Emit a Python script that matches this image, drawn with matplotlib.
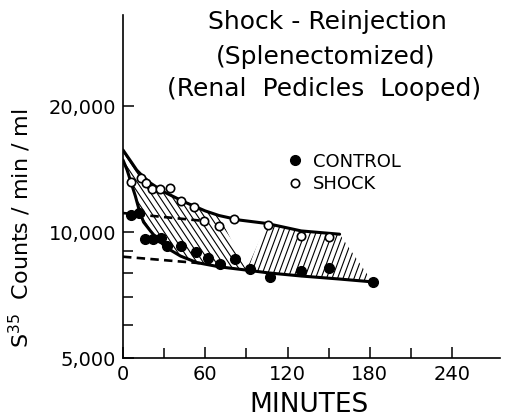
import numpy as np
import matplotlib
matplotlib.use("Agg")
import matplotlib.pyplot as plt
from matplotlib.patches import Polygon
from matplotlib.collections import LineCollection
from matplotlib.ticker import NullFormatter, FixedFormatter

# measured points (minutes, counts/min/ml)
control_t = [6, 12, 16, 22, 28, 32, 42, 53, 62, 71, 82, 93, 107, 130, 150, 182]
control_v = [10980, 11080, 9620, 9620, 9690, 9260, 9260, 8970, 8680, 8370, 8600, 8160, 7790, 8070, 8190, 7610]

shock_t = [6, 13, 17, 21, 27, 34, 42, 52, 59, 70, 81, 106, 130, 150]
shock_v = [13190, 13480, 13120, 12650, 12650, 12760, 11880, 11490, 10640, 10330, 10720, 10390, 9800, 9710]

# fitted curves as drawn on the original
shock_fit_t = [0, 3, 6, 10, 15, 20, 30, 45, 60, 70, 85, 105, 130, 158]
shock_fit_v = [15700, 15190, 14700, 14060, 13530, 13090, 12460, 11790, 11230, 10950, 10680, 10480, 10060, 9880]

control_fit_t = [0, 3, 6, 9, 12, 15, 20, 25, 32, 42, 54, 70, 90, 107, 130, 158, 182]
control_fit_v = [14860, 14060, 13090, 12190, 11220, 10560, 10060, 9620, 9160, 8760, 8450, 8260, 8110, 7980, 7850, 7720, 7600]

# extrapolated slow components (dashed)
shock_slow_t = [0, 60]
shock_slow_v = [11100, 10620]
control_slow_t = [0, 57]
control_slow_v = [8730, 8420]

xticks = [0, 60, 120, 180, 240]
xminor = [30, 90, 150, 210]
yticks = [5000, 10000, 20000]
ylabels = ["5,000", "10,000", "20,000"]
yminor = [6000, 7000, 8000, 9000]

fig = plt.figure(figsize=(5.16, 4.17), dpi=100)
ax = fig.add_axes([123 / 516, 1 - 358 / 417, 377 / 516, 343 / 417])
ax.set_yscale("log")
ax.set_xlim(0, 275)
ax.set_ylim(5000, 33000)

W = 377.0
H = 343.0


def add_hatch(verts, slope, spacing, zorder=1):
    # straight hatch lines in pixel space, clipped to the region
    poly = Polygon(verts, closed=True, fill=False, edgecolor="none")
    ax.add_patch(poly)
    step = abs(slope) * spacing
    span = abs(slope) * W + H
    segs = []
    for c in np.arange(-span, span, step):
        segs.append([(0, c / H), (1, (slope * W + c) / H)])
    lc = LineCollection(segs, transform=ax.transAxes, colors="black",
                        linewidths=0.8, zorder=zorder)
    lc.set_clip_path(poly)
    ax.add_collection(lc, autolim=False)


sf = dict(zip(shock_fit_t, shock_fit_v))
cf = dict(zip(control_fit_t, control_fit_v))

# region 1: 0-70 min on shock curve, 0-90 on control curve
r1 = [(t, sf[t]) for t in shock_fit_t if t <= 70]
r1 += [(t, cf[t]) for t in control_fit_t if t <= 90][::-1]
add_hatch(r1, -1.5, 6.3)

# region 2: 90-182 min
r2 = [(90, cf[90])]
r2 += [(t, sf[t]) for t in shock_fit_t if t >= 105]
r2 += [(t, cf[t]) for t in control_fit_t if t >= 90][::-1]
add_hatch(r2, 2.7, 5.5)

ax.plot(shock_fit_t, shock_fit_v, color="black", lw=2.2, zorder=2,
        solid_capstyle="round")
ax.plot(control_fit_t, control_fit_v, color="black", lw=2.2, zorder=2,
        solid_capstyle="round")
ax.plot(shock_slow_t, shock_slow_v, color="black", lw=1.9, zorder=2,
        dashes=(3.2, 2.0))
ax.plot(control_slow_t, control_slow_v, color="black", lw=1.9, zorder=2,
        dashes=(3.2, 2.0))

h1, = ax.plot(control_t, control_v, "o", ms=7, mfc="black", mec="black",
              zorder=4, label="CONTROL")
h2, = ax.plot(shock_t, shock_v, "o", ms=6, mfc="white", mec="black",
              mew=1.2, zorder=4, label="SHOCK")

ax.legend(handles=[h1, h2], loc="upper left", bbox_to_anchor=(0.442, 0.599),
          frameon=False, fontsize=13, handlelength=0.6, handletextpad=0.7,
          labelspacing=0.25, borderpad=0, borderaxespad=0)

for side in ["top", "right"]:
    ax.spines[side].set_visible(False)
for side in ["left", "bottom"]:
    ax.spines[side].set_linewidth(1.2)

ax.set_xticks(xticks)
ax.set_xticks(xminor, minor=True)
ax.set_yticks(yticks)
ax.yaxis.set_major_formatter(FixedFormatter(ylabels))
ax.set_yticks(yminor, minor=True)
ax.yaxis.set_minor_formatter(NullFormatter())
ax.tick_params(which="both", direction="in", width=1.1, labelsize=14)
ax.tick_params(which="major", length=8, pad=5)
ax.tick_params(which="minor", length=7.5)

fig.text(327 / 516, 1 - 22 / 417, "Shock - Reinjection", ha="center",
         va="center", fontsize=18)
fig.text(326 / 516, 1 - 57 / 417, "(Splenectomized)", ha="center",
         va="center", fontsize=18)
fig.text(324 / 516, 1 - 89 / 417, "(Renal  Pedicles  Looped)", ha="center",
         va="center", fontsize=18)
fig.text(20 / 516, 1 - 228 / 417, r"S$^{35}$  Counts / min / ml",
         rotation=90, ha="center", va="center", fontsize=16)
fig.text(309 / 516, 1 - 405 / 417, "MINUTES", ha="center", va="center",
         fontsize=19)

fig.savefig("out.png", dpi=100)
